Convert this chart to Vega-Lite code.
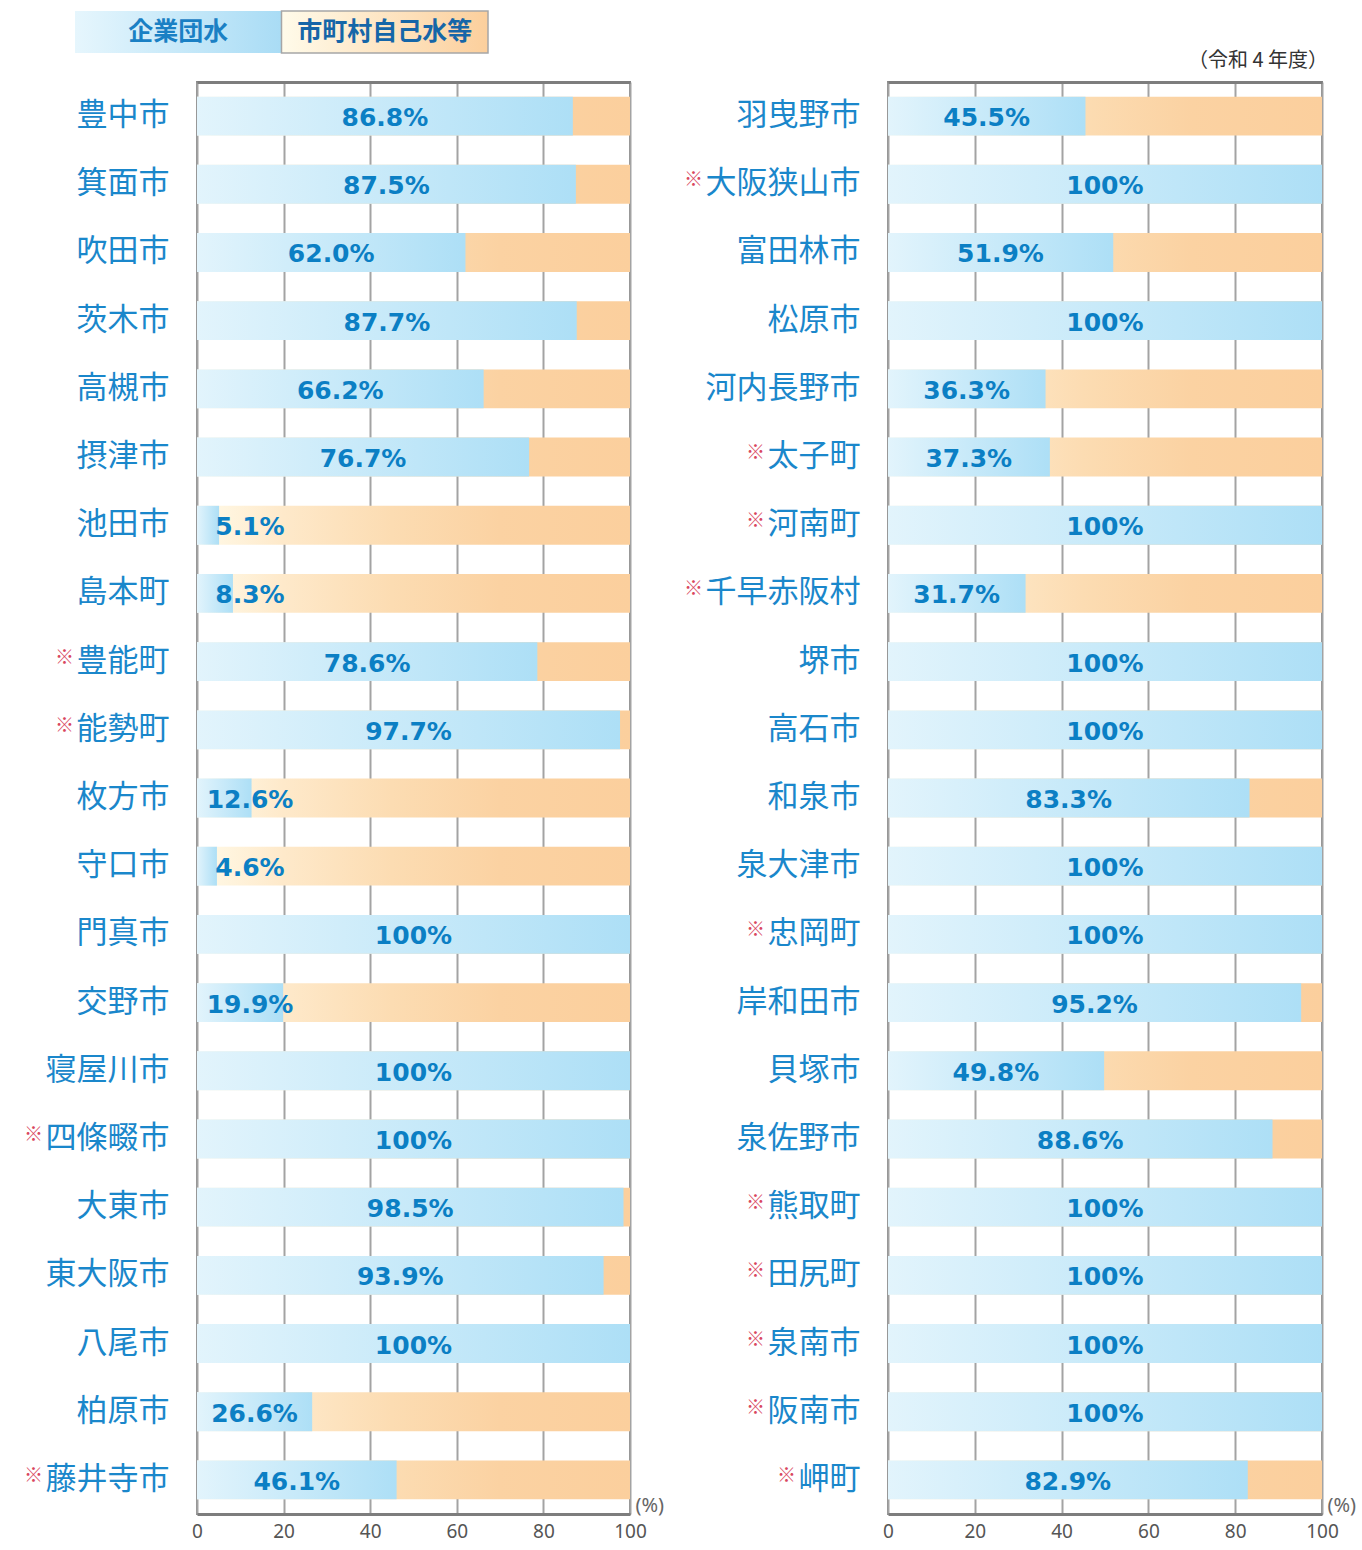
{
  "$schema": "https://vega.github.io/schema/vega-lite/v6.json",
  "background": "white",
  "padding": {"left": 22, "top": 10, "right": 4, "bottom": 5},
  "config": {
    "view": {"stroke": "#8c8c8c", "strokeWidth": 2},
    "font": "Noto Sans CJK JP"
  },
  "datasets": {
    "left": [
      {"name": "豊中市", "note": "", "value": 86.8, "label": "86.8%"},
      {"name": "箕面市", "note": "", "value": 87.5, "label": "87.5%"},
      {"name": "吹田市", "note": "", "value": 62.0, "label": "62.0%"},
      {"name": "茨木市", "note": "", "value": 87.7, "label": "87.7%"},
      {"name": "高槻市", "note": "", "value": 66.2, "label": "66.2%"},
      {"name": "摂津市", "note": "", "value": 76.7, "label": "76.7%"},
      {"name": "池田市", "note": "", "value": 5.1, "label": "5.1%"},
      {"name": "島本町", "note": "", "value": 8.3, "label": "8.3%"},
      {"name": "豊能町", "note": "※", "value": 78.6, "label": "78.6%"},
      {"name": "能勢町", "note": "※", "value": 97.7, "label": "97.7%"},
      {"name": "枚方市", "note": "", "value": 12.6, "label": "12.6%"},
      {"name": "守口市", "note": "", "value": 4.6, "label": "4.6%"},
      {"name": "門真市", "note": "", "value": 100, "label": "100%"},
      {"name": "交野市", "note": "", "value": 19.9, "label": "19.9%"},
      {"name": "寝屋川市", "note": "", "value": 100, "label": "100%"},
      {"name": "四條畷市", "note": "※", "value": 100, "label": "100%"},
      {"name": "大東市", "note": "", "value": 98.5, "label": "98.5%"},
      {"name": "東大阪市", "note": "", "value": 93.9, "label": "93.9%"},
      {"name": "八尾市", "note": "", "value": 100, "label": "100%"},
      {"name": "柏原市", "note": "", "value": 26.6, "label": "26.6%"},
      {"name": "藤井寺市", "note": "※", "value": 46.1, "label": "46.1%"}
    ],
    "right": [
      {"name": "羽曳野市", "note": "", "value": 45.5, "label": "45.5%"},
      {"name": "大阪狭山市", "note": "※", "value": 100, "label": "100%"},
      {"name": "富田林市", "note": "", "value": 51.9, "label": "51.9%"},
      {"name": "松原市", "note": "", "value": 100, "label": "100%"},
      {"name": "河内長野市", "note": "", "value": 36.3, "label": "36.3%"},
      {"name": "太子町", "note": "※", "value": 37.3, "label": "37.3%"},
      {"name": "河南町", "note": "※", "value": 100, "label": "100%"},
      {"name": "千早赤阪村", "note": "※", "value": 31.7, "label": "31.7%"},
      {"name": "堺市", "note": "", "value": 100, "label": "100%"},
      {"name": "高石市", "note": "", "value": 100, "label": "100%"},
      {"name": "和泉市", "note": "", "value": 83.3, "label": "83.3%"},
      {"name": "泉大津市", "note": "", "value": 100, "label": "100%"},
      {"name": "忠岡町", "note": "※", "value": 100, "label": "100%"},
      {"name": "岸和田市", "note": "", "value": 95.2, "label": "95.2%"},
      {"name": "貝塚市", "note": "", "value": 49.8, "label": "49.8%"},
      {"name": "泉佐野市", "note": "", "value": 88.6, "label": "88.6%"},
      {"name": "熊取町", "note": "※", "value": 100, "label": "100%"},
      {"name": "田尻町", "note": "※", "value": 100, "label": "100%"},
      {"name": "泉南市", "note": "※", "value": 100, "label": "100%"},
      {"name": "阪南市", "note": "※", "value": 100, "label": "100%"},
      {"name": "岬町", "note": "※", "value": 82.9, "label": "82.9%"}
    ]
  },
  "spacing": 10,
  "vconcat": [
    {
      "width": 1131,
      "height": 42,
      "view": {"stroke": null},
      "data": {"values": [{"item": "企業団水"}, {"item": "市町村自己水等"}]},
      "title": {"text": "（令和 4 年度）", "orient": "bottom", "anchor": "end", "fontSize": 20, "fontWeight": "normal", "color": "#333333", "font": "Noto Sans CJK JP", "offset": -3},
      "encoding": {
        "x": {"field": "item", "type": "nominal", "sort": null, "axis": null,
              "scale": {"domain": ["企業団水", "市町村自己水等"], "paddingInner": 0, "paddingOuter": 0, "range": [-122, 291]}}
      },
      "layer": [
        {"transform": [{"filter": "datum.item === '企業団水'"}],
         "mark": {"type": "bar", "color": {"gradient": "linear", "x1": 0, "y1": 0, "x2": 1, "y2": 0, "stops": [{"offset": 0, "color": "#e6f6fd"}, {"offset": 1, "color": "#a9dcf5"}]}}},
        {"transform": [{"filter": "datum.item === '市町村自己水等'"}],
         "mark": {"type": "bar", "stroke": "#a6a6a6", "strokeWidth": 1.5, "color": {"gradient": "linear", "x1": 0, "y1": 0, "x2": 1, "y2": 0, "stops": [{"offset": 0, "color": "#fffbea"}, {"offset": 1, "color": "#fccf9c"}]}}},
        {"mark": {"type": "text", "fontSize": 25, "fontWeight": "bold", "font": "Noto Sans CJK JP"},
         "encoding": {"text": {"field": "item"},
                      "color": {"field": "item", "type": "nominal", "legend": null, "scale": {"domain": ["企業団水", "市町村自己水等"], "range": ["#1a80c4", "#1566a8"]}}}}
      ]
    },
    {
      "spacing": 17,
      "hconcat": [
        {
          "width": 433,
          "height": 1432,
          "data": {"name": "left"},
          "layer": [
            {
              "layer": [
                {"mark": {"type": "bar", "color": {"gradient": "linear", "x1": 0, "y1": 0, "x2": 1, "y2": 0, "stops": [{"offset": 0, "color": "#fffcf0"}, {"offset": 0.05, "color": "#fff6e1"}, {"offset": 0.2, "color": "#fee9ca"}, {"offset": 0.45, "color": "#fcdcb2"}, {"offset": 0.7, "color": "#fbd2a2"}, {"offset": 1, "color": "#fbcf9d"}]}},
                 "encoding": {
                   "y": {"field": "name", "type": "nominal", "sort": null, "scale": {"paddingInner": 0.43, "paddingOuter": 0.215},
                         "axis": {"title": null, "ticks": false, "domain": false, "labelFontSize": 31, "labelFont": "Noto Sans CJK JP", "labelColor": "#1a87cb", "labelPadding": 28, "labelLimit": 400}},
                   "x": {"datum": 100, "type": "quantitative", "scale": {"domain": [0, 100]},
                         "axis": {"orient": "bottom", "values": [0, 20, 40, 60, 80, 100], "grid": true, "gridColor": "#a3a3a3", "gridWidth": 2, "ticks": false, "domainColor": "#7d7d7d", "domainWidth": 3, "labelFontSize": 19, "labelColor": "#555555", "labelFont": "Noto Sans", "labelPadding": 8, "labelFlush": false,
                                  "title": "(%)", "titleFontSize": 20, "titleFontWeight": "normal", "titleFont": "Noto Sans", "titleColor": "#666666", "titleAlign": "left", "titleBaseline": "middle", "titleX": 438, "titleY": -9}}
                 }},
                {"mark": {"type": "bar", "color": {"gradient": "linear", "x1": 0, "y1": 0, "x2": 1, "y2": 0, "stops": [{"offset": 0, "color": "#e2f4fc"}, {"offset": 1, "color": "#addff6"}]}},
                 "encoding": {
                   "y": {"field": "name", "type": "nominal", "sort": null},
                   "x": {"field": "value", "type": "quantitative",
                         "axis": {"orient": "top", "domain": true, "domainColor": "#7d7d7d", "domainWidth": 3, "ticks": false, "labels": false, "grid": false, "title": null}}
                 }},
                {"mark": {"type": "text", "color": "#d9475f", "fontSize": 19, "align": "right", "baseline": "middle", "dy": -4, "dx": {"expr": "-30 - 31 * length(datum.name)"}},
                 "encoding": {
                   "y": {"field": "name", "type": "nominal", "sort": null},
                   "x": {"datum": 0, "type": "quantitative", "axis": null},
                   "text": {"field": "note"}
                 }}
              ],
              "resolve": {"axis": {"x": "independent"}}
            },
            {"mark": {"type": "text", "font": "DejaVu Sans", "fontWeight": "bold", "fontSize": 25, "color": "#0b7fc4", "align": "center", "baseline": "middle", "dy": 2},
             "encoding": {
               "y": {"field": "name", "type": "nominal", "sort": null},
               "x": {"field": "value", "type": "quantitative", "scale": {"type": "linear", "domain": [0, 24.5, 200], "range": [53, 53, 433]}, "axis": null},
               "text": {"field": "label"}
             }}
          ],
          "resolve": {"scale": {"x": "independent"}}
        },
        {
          "width": 434,
          "height": 1432,
          "data": {"name": "right"},
          "layer": [
            {
              "layer": [
                {"mark": {"type": "bar", "color": {"gradient": "linear", "x1": 0, "y1": 0, "x2": 1, "y2": 0, "stops": [{"offset": 0, "color": "#fffcf0"}, {"offset": 0.05, "color": "#fff6e1"}, {"offset": 0.2, "color": "#fee9ca"}, {"offset": 0.45, "color": "#fcdcb2"}, {"offset": 0.7, "color": "#fbd2a2"}, {"offset": 1, "color": "#fbcf9d"}]}},
                 "encoding": {
                   "y": {"field": "name", "type": "nominal", "sort": null, "scale": {"paddingInner": 0.43, "paddingOuter": 0.215},
                         "axis": {"title": null, "ticks": false, "domain": false, "labelFontSize": 31, "labelFont": "Noto Sans CJK JP", "labelColor": "#1a87cb", "labelPadding": 28, "labelLimit": 400}},
                   "x": {"datum": 100, "type": "quantitative", "scale": {"domain": [0, 100]},
                         "axis": {"orient": "bottom", "values": [0, 20, 40, 60, 80, 100], "grid": true, "gridColor": "#a3a3a3", "gridWidth": 2, "ticks": false, "domainColor": "#7d7d7d", "domainWidth": 3, "labelFontSize": 19, "labelColor": "#555555", "labelFont": "Noto Sans", "labelPadding": 8, "labelFlush": false,
                                  "title": "(%)", "titleFontSize": 20, "titleFontWeight": "normal", "titleFont": "Noto Sans", "titleColor": "#666666", "titleAlign": "left", "titleBaseline": "middle", "titleX": 439, "titleY": -9}}
                 }},
                {"mark": {"type": "bar", "color": {"gradient": "linear", "x1": 0, "y1": 0, "x2": 1, "y2": 0, "stops": [{"offset": 0, "color": "#e2f4fc"}, {"offset": 1, "color": "#addff6"}]}},
                 "encoding": {
                   "y": {"field": "name", "type": "nominal", "sort": null},
                   "x": {"field": "value", "type": "quantitative",
                         "axis": {"orient": "top", "domain": true, "domainColor": "#7d7d7d", "domainWidth": 3, "ticks": false, "labels": false, "grid": false, "title": null}}
                 }},
                {"mark": {"type": "text", "color": "#d9475f", "fontSize": 19, "align": "right", "baseline": "middle", "dy": -4, "dx": {"expr": "-30 - 31 * length(datum.name)"}},
                 "encoding": {
                   "y": {"field": "name", "type": "nominal", "sort": null},
                   "x": {"datum": 0, "type": "quantitative", "axis": null},
                   "text": {"field": "note"}
                 }}
              ],
              "resolve": {"axis": {"x": "independent"}}
            },
            {"mark": {"type": "text", "font": "DejaVu Sans", "fontWeight": "bold", "fontSize": 25, "color": "#0b7fc4", "align": "center", "baseline": "middle", "dy": 2},
             "encoding": {
               "y": {"field": "name", "type": "nominal", "sort": null},
               "x": {"field": "value", "type": "quantitative", "scale": {"type": "linear", "domain": [0, 24.5, 200], "range": [53, 53, 434]}, "axis": null},
               "text": {"field": "label"}
             }}
          ],
          "resolve": {"scale": {"x": "independent"}}
        }
      ]
    }
  ]
}
